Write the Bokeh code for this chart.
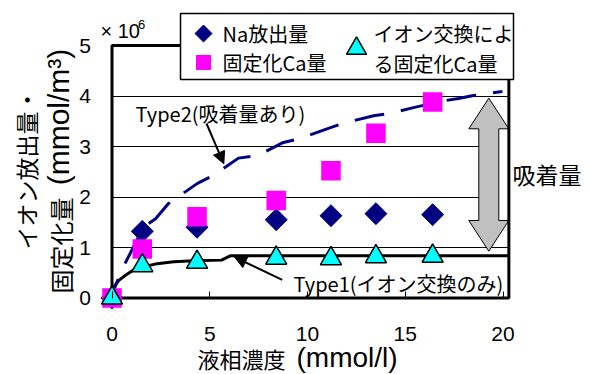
import math
from bokeh.plotting import figure
from bokeh.models import Range1d, FixedTicker, Label, Arrow, NormalHead
from bokeh.embed import file_html
from bokeh.resources import INLINE

# ---------------- data (y values in units of 10^6 mmol/m3) ----------------
conc = [0, 1.55, 4.35, 8.4, 11.2, 13.5, 16.4]
na_release = [0, 1.32, 1.40, 1.55, 1.63, 1.67, 1.65]
ca_fixed = [0, 0.97, 1.61, 1.93, 2.52, 3.26, 3.88]
ca_ion_exchange = [0, 0.64, 0.71, 0.79, 0.78, 0.82, 0.83]

type2_x = [0, 0.18, 0.69, 1.61, 2.23, 2.89, 4.37, 5.19, 6.47, 7.44, 8.77,
           9.64, 11.07, 11.84, 13.38, 14.14, 15.42, 16.9, 17.72, 18.49, 19.97]
type2_y = [0, 0.25, 0.70, 1.40, 1.57, 1.87, 2.27, 2.43, 2.77, 2.82, 3.08,
           3.16, 3.36, 3.46, 3.61, 3.65, 3.77, 3.90, 3.95, 4.01, 4.09]

type1_x = [0, 0.09, 0.35, 0.69, 1.12, 1.63, 2.31, 3.16, 4.18, 5.6, 6.05, 20.3]
type1_y = [0, 0.21, 0.35, 0.45, 0.56, 0.62, 0.68, 0.72, 0.74, 0.75, 0.835, 0.835]

x_ticks = [0, 5, 10, 15, 20]
y_ticks = [0, 1, 2, 3, 4, 5]
grid_ticks = [1, 2, 3, 4]

legend_labels = ["Na放出量", "固定化Ca量", "イオン交換によ", "る固定化Ca量"]

X_MAX = 20.3
Y_MAX = 5

# ---------------- layout helpers (canvas pixel -> data) ----------------
W, H = 590, 374
X0, SX = 111.5, 19.55
Y0, SY = 297.5, 50.5


def dx(px):
    return (px - X0) / SX


def dy(py):
    return (Y0 - py) / SY


JP = "Noto Sans CJK JP"
LAT = "Liberation Sans"

p = figure(width=W, height=H,
           x_range=Range1d(dx(0), dx(W)), y_range=Range1d(dy(H), dy(0)),
           min_border=0, min_border_left=0, min_border_right=0,
           min_border_top=0, min_border_bottom=0,
           output_backend="svg", toolbar_location=None, tools="")
p.outline_line_color = None
p.background_fill_color = "white"
p.border_fill_color = "white"

# axes (placed at x=0 / y=0 inside the canvas)
xa = p.xaxis[0]
xa.fixed_location = 0
xa.ticker = FixedTicker(ticks=x_ticks)
xa.axis_line_color = None
xa.major_tick_in = 7
xa.major_tick_out = 0
xa.major_tick_line_color = "black"
xa.minor_tick_line_color = None
xa.major_label_standoff = 29
xa.major_label_text_font = LAT
xa.major_label_text_font_size = "21px"
xa.major_label_text_color = "black"

ya = p.yaxis[0]
ya.fixed_location = 0
ya.ticker = FixedTicker(ticks=y_ticks)
ya.axis_line_color = None
ya.major_tick_in = 0
ya.major_tick_out = 0
ya.major_tick_line_color = None
ya.minor_tick_line_color = None
ya.major_label_standoff = 21
ya.major_label_text_font = LAT
ya.major_label_text_font_size = "21px"
ya.major_label_text_color = "black"

# grid
p.xgrid.visible = False
g = p.ygrid[0]
g.ticker = FixedTicker(ticks=grid_ticks)
g.grid_line_color = "black"
g.grid_line_width = 1
if "cross_bounds" in g.properties():
    g.cross_bounds = (0, X_MAX)
else:
    g.visible = False
    p.segment(x0=[0] * len(grid_ticks), x1=[X_MAX] * len(grid_ticks),
              y0=grid_ticks, y1=grid_ticks, line_color="black", line_width=1)

# white text-box background between gray arrow and right border
p.quad(left=dx(498), right=X_MAX, bottom=dy(220), top=dy(128),
       fill_color="white", line_color=None)

# big gray double arrow (adsorbed amount)
cx, sh, hh = 488.3, 10, 20
ytt, ytb, ybb, ybt = 97.7, 128.3, 220, 250.7
arrow_px = [(cx, ytt), (cx + hh, ytb), (cx + sh, ytb), (cx + sh, ybb), (cx + hh, ybb),
            (cx, ybt), (cx - hh, ybb), (cx - sh, ybb), (cx - sh, ytb), (cx - hh, ytb)]
p.patch([dx(a) for a, b in arrow_px], [dy(b) for a, b in arrow_px],
        fill_color="#C0C0C0", line_color="black", line_width=1)

# plot border
p.quad(left=0, right=X_MAX, bottom=0, top=Y_MAX, fill_color=None,
       line_color="black", line_width=3)

# model curves
p.line(type1_x, type1_y, line_color="black", line_width=3)
p.line(type2_x, type2_y, line_color="#000080", line_width=3, line_dash="30 17",
       line_dash_offset=10)

# measured points
p.scatter(conc, na_release, marker="square", angle=math.pi / 4, size=15.5,
          fill_color="#000080", line_color="#000080")
p.scatter(conc, ca_fixed, marker="square", size=19.5,
          fill_color="#FF00FF", line_color=None)
p.scatter(conc, ca_ion_exchange, marker="triangle", size=21,
          fill_color="#00FFFF", line_color="black", line_width=1.5)

# legend box (drawn by hand to match the original two-column layout)
p.quad(left=dx(180), right=dx(513), bottom=dy(79), top=dy(13),
       fill_color="white", line_color="black", line_width=1.5)
p.scatter([dx(203)], [dy(33)], marker="square", angle=math.pi / 4, size=12,
          fill_color="#000080", line_color="#000080")
p.scatter([dx(203)], [dy(62)], marker="square", size=15,
          fill_color="#FF00FF", line_color=None)
p.scatter([dx(356)], [dy(48)], marker="triangle", size=20,
          fill_color="#00FFFF", line_color="black", line_width=1.5)
for txt, lx, ly in zip(legend_labels, [222, 222, 373, 373], [33, 62, 33, 63]):
    p.add_layout(Label(x=dx(lx), y=dy(ly), text=txt, text_font=JP,
                       text_font_size="20px", text_baseline="middle",
                       text_align="left", text_color="black"))

# annotations
p.add_layout(Label(x=dx(135), y=dy(113), text="Type2(吸着量あり)", text_font=JP,
                   text_font_size="20px", text_baseline="middle", text_color="black"))
p.add_layout(Label(x=dx(293), y=dy(283), text="Type1(イオン交換のみ)", text_font=JP,
                   text_font_size="20px", text_baseline="middle", text_color="black"))
p.add_layout(Arrow(end=NormalHead(size=12, fill_color="black", line_color="black"),
                   x_start=dx(206), y_start=dy(123), x_end=dx(223.3), y_end=dy(163.3),
                   line_color="black", line_width=2))
p.add_layout(Arrow(end=NormalHead(size=12, fill_color="black", line_color="black"),
                   x_start=dx(281.7), y_start=dy(279.3), x_end=dx(234), y_end=dy(256.5),
                   line_color="black", line_width=2))
p.add_layout(Label(x=dx(512), y=dy(173), text="吸着量", text_font=JP,
                   text_font_size="23px", text_baseline="middle", text_color="black"))

# y-axis multiplier
p.add_layout(Label(x=dx(100), y=dy(30), text="× 10", text_font=LAT,
                   text_font_size="20px", text_baseline="middle", text_color="black"))
p.add_layout(Label(x=dx(137.5), y=dy(23.5), text="6", text_font=LAT,
                   text_font_size="13px", text_baseline="middle", text_color="black"))

# y-axis title (two columns, rotated)
p.add_layout(Label(x=dx(25), y=dy(168.5), text="イオン放出量・", text_font=JP,
                   text_font_size="23px", angle=math.pi / 2, text_align="center",
                   text_baseline="middle", text_color="black"))
p.add_layout(Label(x=dx(60), y=dy(245), text="固定化量", text_font=JP,
                   text_font_size="24px", angle=math.pi / 2, text_align="center",
                   text_baseline="middle", text_color="black"))
p.add_layout(Label(x=dx(58), y=dy(116.5), text="(mmol/m³)", text_font=LAT,
                   text_font_size="30px", angle=math.pi / 2, text_align="center",
                   text_baseline="middle", text_color="black"))

# x-axis title
p.add_layout(Label(x=dx(197), y=dy(357), text="液相濃度", text_font=JP,
                   text_font_size="22px", text_baseline="middle", text_color="black"))
p.add_layout(Label(x=dx(296), y=dy(357), text="(mmol/l)", text_font=LAT,
                   text_font_size="28px", text_baseline="middle", text_color="black"))

open("out.html", "w").write(file_html(p, INLINE))
